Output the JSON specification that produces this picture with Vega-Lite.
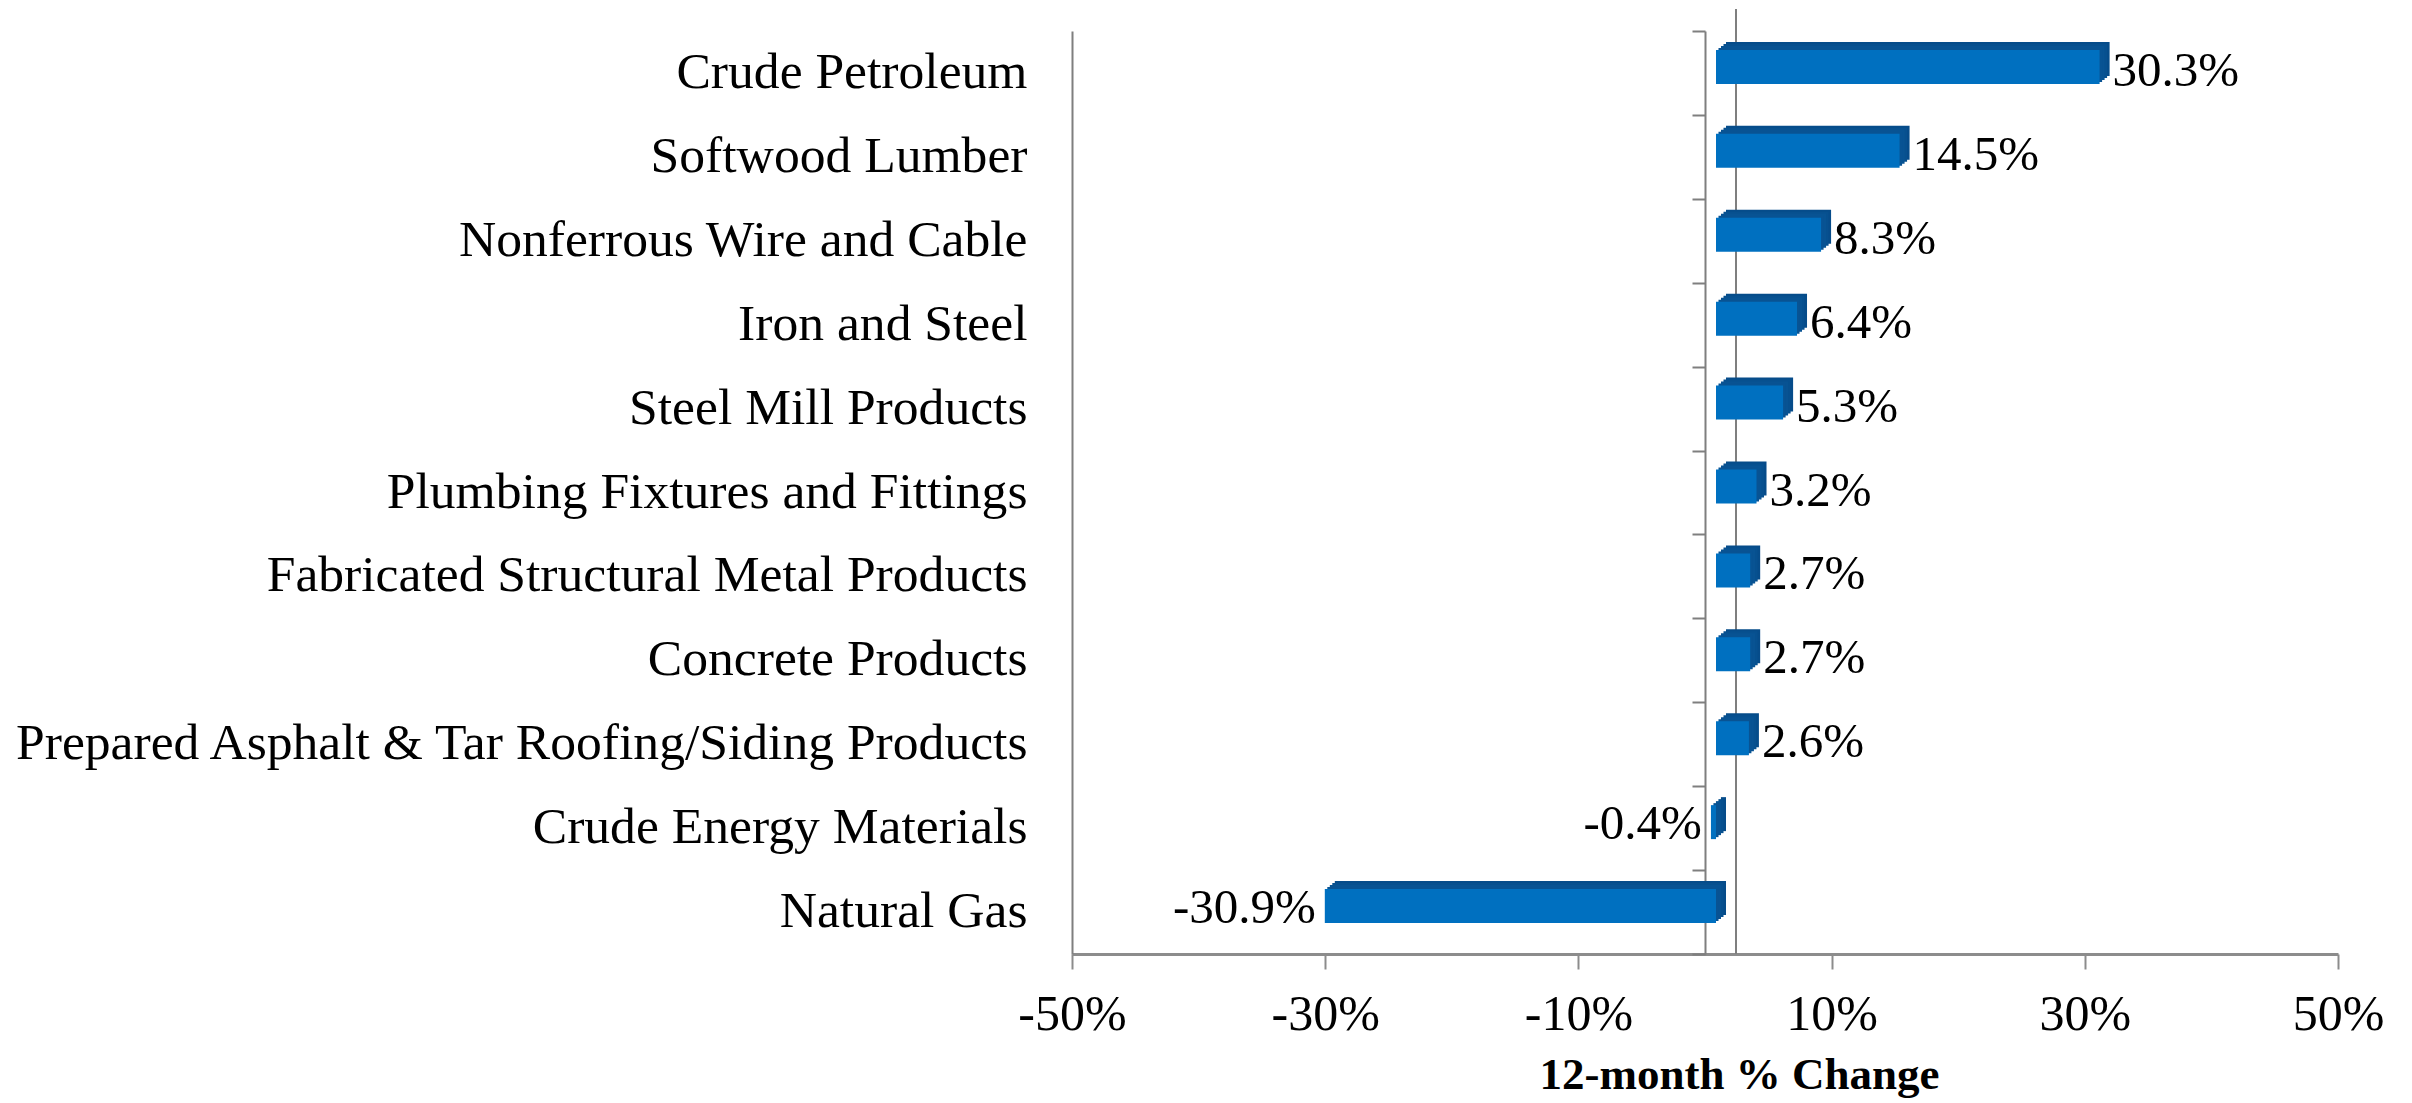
{
  "$schema": "https://vega.github.io/schema/vega-lite/v6.json",
  "width": 1266,
  "height": 923,
  "autosize": {"type": "none"},
  "padding": {"left": 1072, "top": 31, "right": 74, "bottom": 149},
  "background": "white",
  "config": {"view": {"stroke": null}, "font": "Liberation Serif"},
  "data": {
    "values": [
      {"category": "Crude Petroleum", "value": 30.3, "label": "30.3%"},
      {"category": "Softwood Lumber", "value": 14.5, "label": "14.5%"},
      {"category": "Nonferrous Wire and Cable", "value": 8.3, "label": "8.3%"},
      {"category": "Iron and Steel", "value": 6.4, "label": "6.4%"},
      {"category": "Steel Mill Products", "value": 5.3, "label": "5.3%"},
      {"category": "Plumbing Fixtures and Fittings", "value": 3.2, "label": "3.2%"},
      {"category": "Fabricated Structural Metal Products", "value": 2.7, "label": "2.7%"},
      {"category": "Concrete Products", "value": 2.7, "label": "2.7%"},
      {"category": "Prepared Asphalt & Tar Roofing/Siding Products", "value": 2.6, "label": "2.6%"},
      {"category": "Crude Energy Materials", "value": -0.4, "label": "-0.4%"},
      {"category": "Natural Gas", "value": -30.9, "label": "-30.9%"}
    ]
  },
  "layer": [
    {
      "mark": {"type": "rule", "color": "#7f7f7f", "strokeWidth": 2, "xOffset": 31, "yOffset": -22},
      "encoding": {"x": {"datum": 0}}
    },
    {
      "mark": {"type": "bar", "color": "#064C8A", "size": 34, "xOffset": 21, "yOffset": -14},
      "encoding": {
        "y": {
          "field": "category", "type": "nominal", "sort": null,
          "scale": {"paddingInner": 0, "paddingOuter": 0},
          "axis": {
            "orient": "left", "title": null, "domain": true, "domainColor": "#7f7f7f", "domainWidth": 2,
            "ticks": false, "labelPadding": 45, "labelFontSize": 51.6, "labelFont": "Liberation Serif",
            "labelColor": "#000000", "labelLimit": 1200, "grid": false
          }
        },
        "x": {
          "field": "value", "type": "quantitative",
          "scale": {"domain": [-50, 50], "nice": false, "zero": false},
          "axis": {
            "values": [-50, -30, -10, 10, 30, 50], "labelExpr": "datum.value + '%'",
            "labelFontSize": 50, "labelFont": "Liberation Serif", "labelColor": "#000000", "labelPadding": 20,
            "labelFlush": false,
            "tickSize": 15, "tickColor": "#8c8c8c", "tickWidth": 2,
            "domainColor": "#8c8c8c", "domainWidth": 3, "grid": false,
            "title": "12-month % Change", "titleFont": "Liberation Serif", "titleFontSize": 45,
            "titleFontWeight": "bold", "titleColor": "#000000", "titlePadding": 13,
            "titleX": 667, "titleAlign": "center"
          }
        }
      }
    },
    {
      "mark": {"type": "bar", "color": "#07508F", "size": 34, "xOffset": 18.5, "yOffset": -12},
      "encoding": {
        "y": {"field": "category", "type": "nominal", "sort": null, "axis": null},
        "x": {"field": "value", "type": "quantitative"}
      }
    },
    {
      "mark": {"type": "bar", "color": "#085393", "size": 34, "xOffset": 16, "yOffset": -10},
      "encoding": {
        "y": {"field": "category", "type": "nominal", "sort": null, "axis": null},
        "x": {"field": "value", "type": "quantitative"}
      }
    },
    {
      "mark": {"type": "bar", "color": "#085393", "size": 34, "xOffset": 13.5, "yOffset": -8},
      "encoding": {
        "y": {"field": "category", "type": "nominal", "sort": null, "axis": null},
        "x": {"field": "value", "type": "quantitative"}
      }
    },
    {
      "mark": {"type": "bar", "color": "#0070C0", "size": 34, "xOffset": 11, "yOffset": -6},
      "encoding": {
        "y": {"field": "category", "type": "nominal", "sort": null, "axis": null},
        "x": {"field": "value", "type": "quantitative"}
      }
    },
    {
      "mark": {"type": "point", "opacity": 0},
      "encoding": {
        "y": {
          "field": "category", "type": "nominal", "sort": null,
          "axis": {
            "orient": "left", "offset": -633, "labels": false, "title": null, "grid": false,
            "domain": true, "domainColor": "#7f7f7f", "domainWidth": 2,
            "ticks": true, "tickBand": "extent", "tickSize": 13, "tickColor": "#7f7f7f", "tickWidth": 2
          }
        },
        "x": {"datum": 0}
      }
    },
    {
      "transform": [{"filter": "datum.value > 0"}],
      "mark": {"type": "text", "align": "left", "baseline": "middle", "dx": 24, "dy": -2, "fontSize": 49, "font": "Liberation Serif", "color": "#000000"},
      "encoding": {
        "y": {"field": "category", "type": "nominal", "sort": null, "axis": null},
        "x": {"field": "value", "type": "quantitative"},
        "text": {"field": "label"}
      }
    },
    {
      "transform": [{"filter": "datum.value < 0"}],
      "mark": {"type": "text", "align": "right", "baseline": "middle", "dx": 2, "dy": -4, "fontSize": 49, "font": "Liberation Serif", "color": "#000000"},
      "encoding": {
        "y": {"field": "category", "type": "nominal", "sort": null, "axis": null},
        "x": {"field": "value", "type": "quantitative"},
        "text": {"field": "label"}
      }
    }
  ],
  "resolve": {"axis": {"y": "independent"}}
}
